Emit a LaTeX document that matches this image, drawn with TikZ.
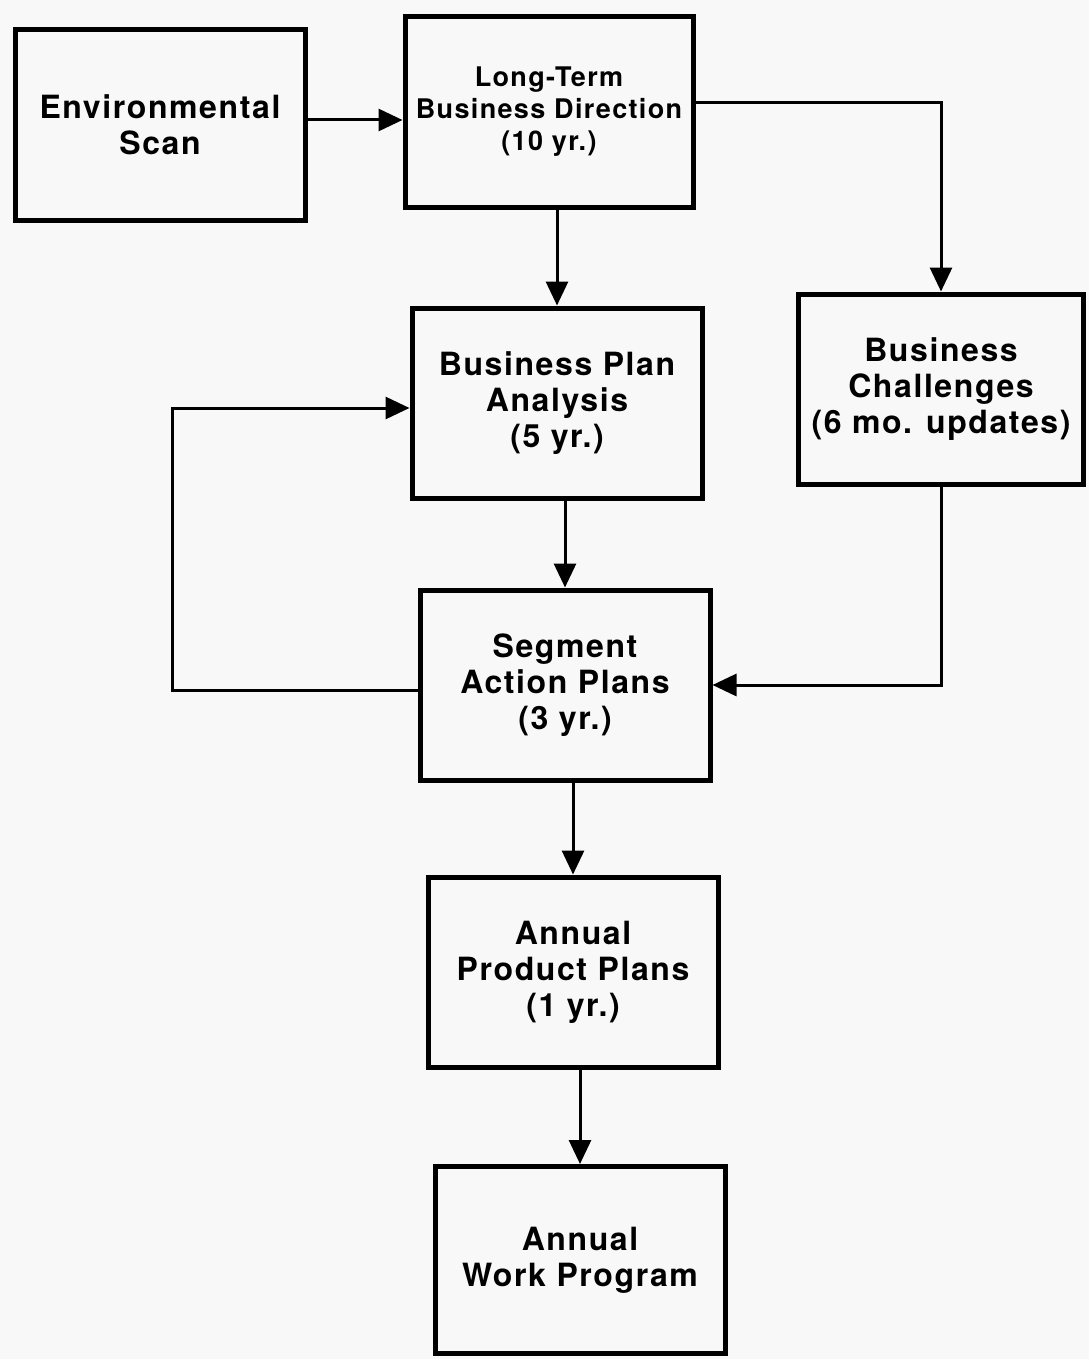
\documentclass[tikz,border=0pt]{standalone}
\usepackage{fontspec}
\setmainfont{TeX Gyre Heros}[LetterSpace=5]
\usetikzlibrary{arrows.meta,calc}
\definecolor{bg}{RGB}{248,248,248}
\begin{document}
\begin{tikzpicture}[x=1pt,y=-1pt,
  box/.style={draw,line width=5pt,minimum width=290pt,minimum height=190pt,align=center,inner sep=0pt,font=\bfseries\fontsize{32}{36}\selectfont},
  smalltext/.style={font=\bfseries\fontsize{27}{32}\selectfont},
  arr/.style={line width=3pt,-{Triangle[length=24pt,width=22pt]}},
  ln/.style={line width=3pt}]
\fill[bg] (0,0) rectangle (1089,1359);
\useasboundingbox (0,0) rectangle (1089,1359);
\node[box] (env) at (160,125) {Environmental\\Scan};
\node[box,smalltext,minimum width=288pt] (ltbd) at (549,112) {Long-Term\\Business Direction\\(10 yr.)};
\node[box] (bpa) at (557,403) {Business Plan\\Analysis\\(5 yr.)};
\node[box,minimum width=285pt] (bc) at (941,389) {Business\\Challenges\\(6 mo. updates)};
\node[box] (sap) at (565,685) {Segment\\Action Plans\\(3 yr.)};
\node[box] (app) at (573,972) {Annual\\Product Plans\\(1 yr.)};
\node[box,minimum height=187pt] (awp) at (580,1260) {Annual\\Work Program};
% connectors
\draw[arr] ([yshift=5pt]env.east) -- ([yshift=5pt]env.east -| ltbd.west);
\draw[arr] ([yshift=9pt]ltbd.east) -| (bc.north);
\draw[arr] (bpa.north |- ltbd.south) -- (bpa.north);
\draw[arr] (sap.north |- bpa.south) -- (sap.north);
\draw[arr] (bc.south) |- (sap.east);
\draw[arr] ([yshift=-5pt]sap.west) -- ++(-245,0) |- ([yshift=-5pt]bpa.west);
\draw[arr] (app.north |- sap.south) -- (app.north);
\draw[arr] (awp.north |- app.south) -- (awp.north);
\end{tikzpicture}
\end{document}
